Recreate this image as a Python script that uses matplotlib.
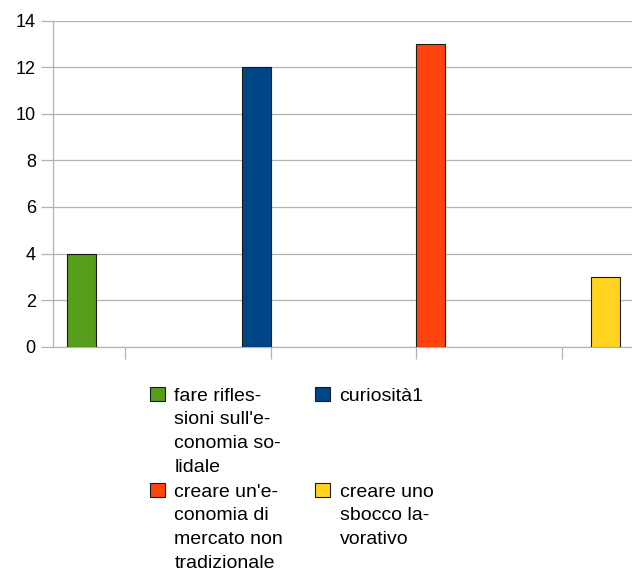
import matplotlib
matplotlib.use("Agg")
import matplotlib.pyplot as plt
from matplotlib.patches import Rectangle

plt.rcParams["font.family"] = ["Liberation Sans", "DejaVu Sans"]

# --------------------------
# data
# --------------------------
labels = [
    "fare rifles-\nsioni sull'e-\nconomia so-\nlidale",
    "curiosità1",
    "creare un'e-\nconomia di\nmercato non\ntradizionale",
    "creare uno\nsbocco la-\nvorativo",
]
values = [4, 12, 13, 3]
colors = ["#579d1c", "#004586", "#ff420e", "#ffd320"]
yticks = [0, 2, 4, 6, 8, 10, 12, 14]

W, H = 632, 569
fig = plt.figure(figsize=(W / 100, H / 100), dpi=100)
ax = fig.add_axes([52.5 / W, 1 - 346.7 / H, 582 / W, 326 / H])

# each series sits in its own category, in its own slot (LibreOffice grouped layout)
n = len(values)
bw = 1 / (n + 1)
for i, (v, c) in enumerate(zip(values, colors)):
    x = i - 0.5 + bw / 2 + bw * i + bw / 2
    ax.bar(x, v, width=bw, color=c, edgecolor="#1a1a1a", linewidth=0.8, zorder=3)

ax.set_xlim(-0.5, n - 0.5)
ax.set_ylim(0, 14)
ax.set_yticks(yticks)
ax.set_xticks(range(n))
ax.set_xticklabels([])
ax.yaxis.grid(True, color="#b3b3b3", linewidth=0.9, zorder=0)
ax.tick_params(axis="y", length=8.5, width=0.9, color="#b3b3b3", pad=3.5,
               labelsize=13, labelcolor="black")
ax.tick_params(axis="x", length=8.4, width=0.9, color="#b3b3b3")
for s in ["top", "right"]:
    ax.spines[s].set_visible(False)
for s in ["left", "bottom"]:
    ax.spines[s].set_color("#b3b3b3")
    ax.spines[s].set_linewidth(0.9)

# --------------------------
# legend (drawn by hand so rows line up across columns)
# --------------------------
pos = [(150, 387), (315, 387), (150, 483), (315, 483)]
for (px, py), lab, c in zip(pos, labels, colors):
    fig.add_artist(Rectangle((px / W, 1 - (py + 13.5) / H), 14.5 / W, 13.5 / H,
                             transform=fig.transFigure, facecolor=c,
                             edgecolor="#1a1a1a", linewidth=0.8))
    fig.text((px + 24.5) / W, 1 - (py + 1) / H, lab, ha="left", va="top",
             fontsize=14, linespacing=1.5, color="black")

fig.savefig("out.png", dpi=100)
